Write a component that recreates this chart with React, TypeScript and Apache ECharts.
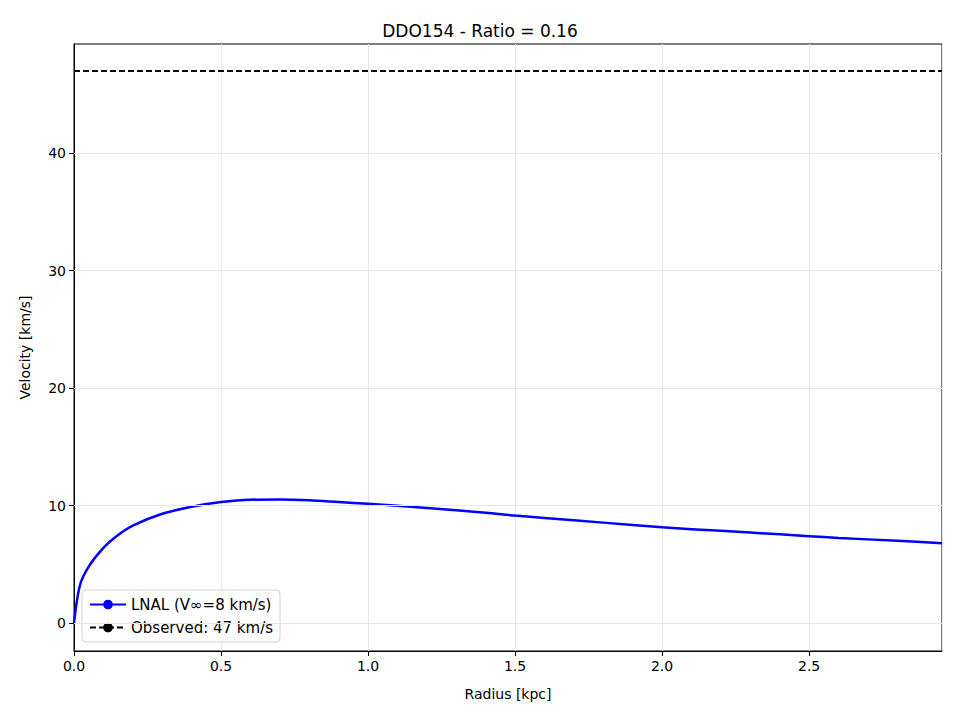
import { useEffect, useRef } from 'react';
import * as echarts from 'echarts';

const radius = [0, 0.02, 0.05, 0.1, 0.15, 0.2, 0.3, 0.4, 0.5, 0.6, 0.7, 0.8, 0.9, 1.0, 1.2, 1.4, 1.5, 1.6, 1.8, 2.0, 2.2, 2.4, 2.5, 2.6, 2.8, 2.952];
const lnalVelocity = [0, 3.2, 4.8, 6.4, 7.5, 8.3, 9.3, 9.9, 10.3, 10.5, 10.52, 10.45, 10.3, 10.15, 9.8, 9.4, 9.15, 8.95, 8.55, 8.15, 7.85, 7.55, 7.4, 7.25, 7.0, 6.8];
const observed = 47;
const yTicks = [0, 10, 20, 30, 40];

const font = 'DejaVu Sans';

export default function App() {
  const ref = useRef<HTMLDivElement | null>(null);

  useEffect(() => {
    if (!ref.current) return;
    const chart = echarts.init(ref.current, undefined, { renderer: 'svg' });
    chart.setOption({
      animation: false,
      textStyle: { fontFamily: font },
      title: {
        text: 'DDO154 - Ratio = 0.16',
        left: 'center',
        top: 17,
        textStyle: { fontFamily: font, fontSize: 17, fontWeight: 'normal', color: '#000' },
      },
      grid: { left: 74, right: 18, top: 44, bottom: 69, show: true, borderColor: '#000', borderWidth: 1 },
      xAxis: {
        type: 'value',
        min: 0,
        max: 2.952,
        interval: 0.5,
        name: 'Radius [kpc]',
        nameLocation: 'middle',
        nameGap: 36,
        nameTextStyle: { fontFamily: font, fontSize: 14, color: '#000' },
        axisLine: { show: true, onZero: false, lineStyle: { color: '#000' } },
        axisTick: { show: true, length: 5, lineStyle: { color: '#000' } },
        axisLabel: { showMaxLabel: false, formatter: (v: number) => v.toFixed(1), fontSize: 14, color: '#000', margin: 8 },
        splitLine: { show: true, lineStyle: { color: '#e6e6e6' } },
      },
      yAxis: {
        type: 'value',
        min: -2.38,
        max: 49.3,
        name: 'Velocity [km/s]',
        nameLocation: 'middle',
        nameGap: 42,
        nameTextStyle: { fontFamily: font, fontSize: 14, color: '#000' },
        axisLine: { show: true, onZero: false, lineStyle: { color: '#000' } },
        axisTick: { show: true, length: 5, customValues: yTicks, lineStyle: { color: '#000' } },
        axisLabel: { customValues: yTicks, fontSize: 14, color: '#000', margin: 8 },
        splitLine: { show: false },
      },
      legend: {
        left: 82,
        bottom: 78,
        orient: 'vertical',
        align: 'left',
        backgroundColor: '#fff',
        borderColor: '#d0d0d0',
        borderWidth: 1,
        borderRadius: 4,
        padding: [7, 7, 7, 7],
        itemGap: 8,
        itemWidth: 36,
        itemHeight: 12,
        textStyle: { fontFamily: font, fontSize: 15, color: '#000' },
        data: [{ name: 'LNAL (V∞=8 km/s)' }, { name: 'Observed: 47 km/s' }],
      },
      series: [
        {
          name: 'grid',
          type: 'line',
          data: [],
          silent: true,
          markLine: {
            silent: true,
            symbol: 'none',
            label: { show: false },
            lineStyle: { color: '#e6e6e6', type: 'solid', width: 1 },
            data: yTicks.map((t) => ({ yAxis: t })),
          },
        },
        {
          name: 'LNAL (V∞=8 km/s)',
          type: 'line',
          data: radius.map((r, i) => [r, lnalVelocity[i]]),
          smooth: 0.3,
          symbol: 'none',
          lineStyle: { color: '#0000ff', width: 2.5 },
          itemStyle: { color: '#0000ff' },
        },
        {
          name: 'Observed: 47 km/s',
          type: 'line',
          data: [[0, observed], [2.952, observed]],
          symbol: 'none',
          lineStyle: { color: '#000', width: 2, type: [6, 3] },
          itemStyle: { color: '#000' },
        },
      ],
    });
    return () => chart.dispose();
  }, []);

  return <div ref={ref} style={{ width: 960, height: 720, position: 'absolute', left: 0, top: 0 }} />;
}
